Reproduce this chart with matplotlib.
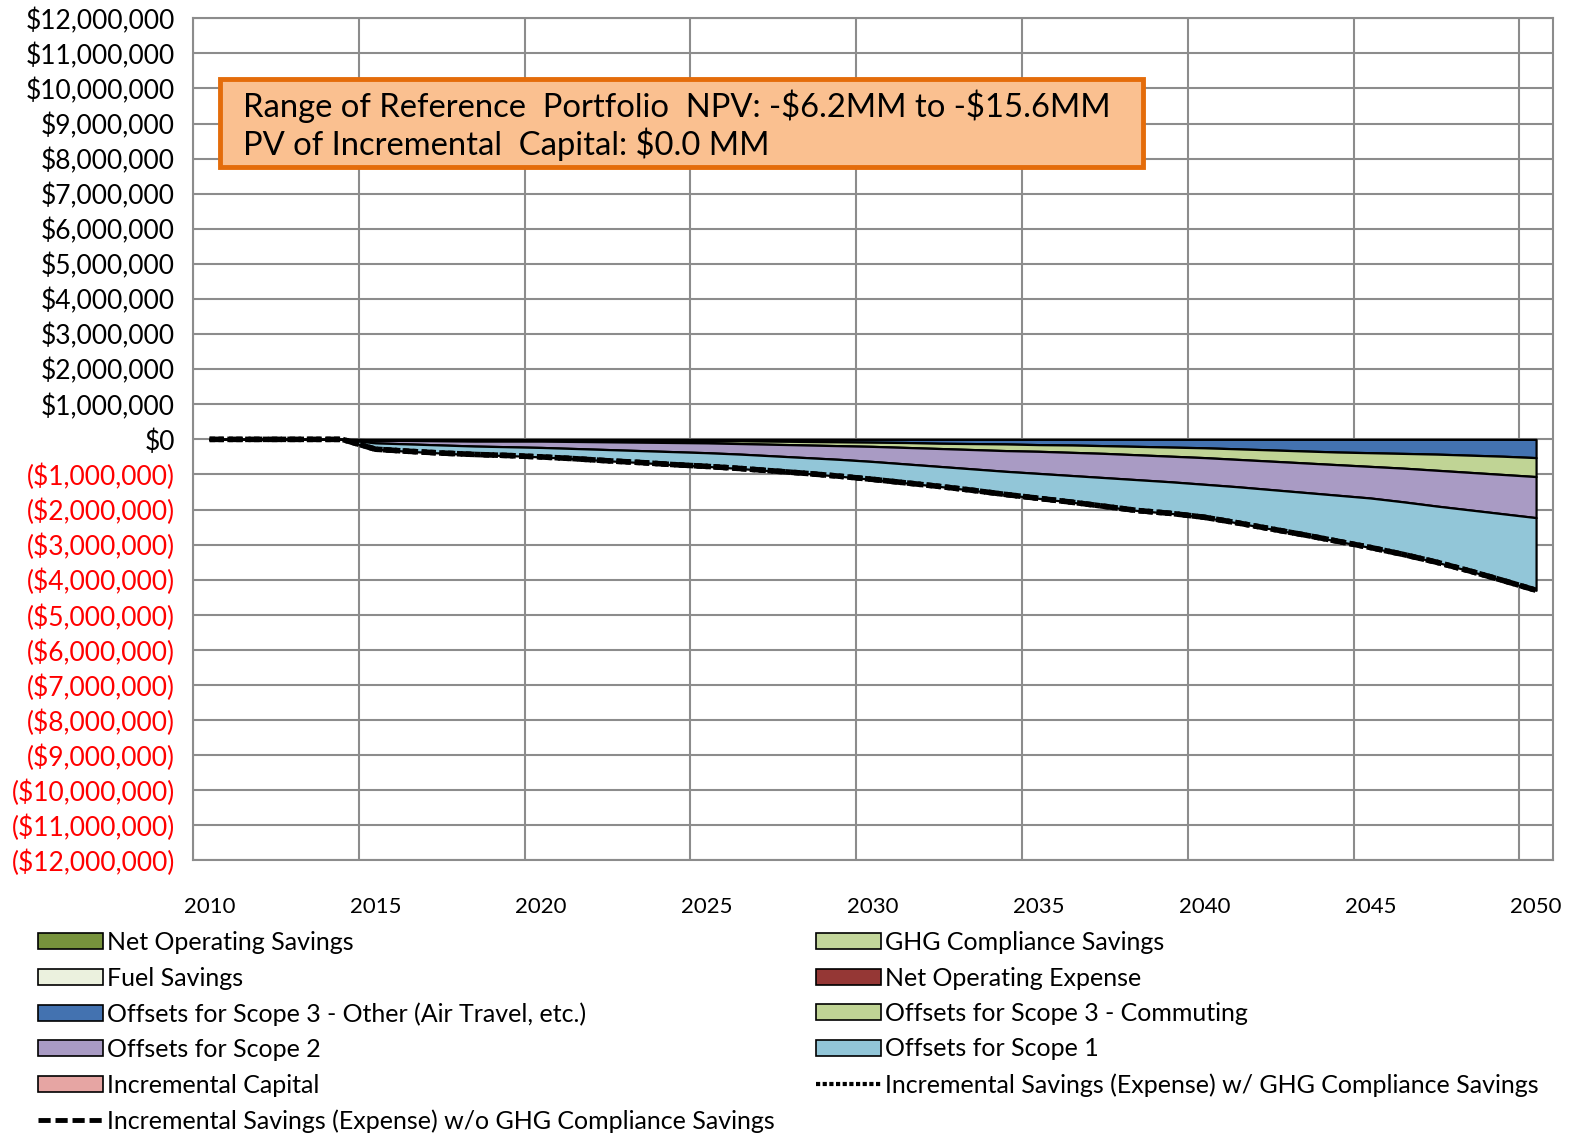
import numpy as np
import matplotlib
matplotlib.use("Agg")
import matplotlib.pyplot as plt
from matplotlib.patches import Patch, Rectangle
from matplotlib.lines import Line2D
from matplotlib.ticker import FuncFormatter, MultipleLocator

plt.rcParams['font.family'] = ['Lato', 'DejaVu Sans']

# years of the category axis
years = list(range(2010, 2051))

# stacked layers, $MM per year (2010-2050), shown as expense (negative)
scope3_other = [0, 0, 0, 0, 0,
                0.01, 0.01, 0.01, 0.02, 0.02, 0.02, 0.02, 0.03, 0.03, 0.03,
                0.04, 0.04, 0.05, 0.06, 0.07, 0.08, 0.09, 0.11, 0.12, 0.13,
                0.15, 0.16, 0.18, 0.20, 0.22, 0.24, 0.27, 0.30, 0.33, 0.36,
                0.38, 0.40, 0.42, 0.45, 0.48, 0.52]
scope3_commuting = [0, 0, 0, 0, 0,
                    0.02, 0.02, 0.03, 0.03, 0.03, 0.03, 0.04, 0.04, 0.05, 0.06,
                    0.06, 0.08, 0.09, 0.10, 0.11, 0.12, 0.14, 0.15, 0.17, 0.19,
                    0.19, 0.21, 0.22, 0.24, 0.26, 0.28, 0.30, 0.32, 0.34, 0.36,
                    0.39, 0.42, 0.46, 0.49, 0.52, 0.54]
scope2 = [0, 0, 0, 0, 0,
          0.07, 0.10, 0.12, 0.14, 0.16, 0.18, 0.20, 0.22, 0.24, 0.26,
          0.28, 0.30, 0.33, 0.36, 0.39, 0.43, 0.47, 0.51, 0.55, 0.59,
          0.63, 0.66, 0.69, 0.71, 0.73, 0.76, 0.78, 0.81, 0.84, 0.87,
          0.90, 0.96, 1.02, 1.07, 1.12, 1.17]
scope1 = [0, 0, 0, 0, 0,
          0.18, 0.21, 0.23, 0.25, 0.25, 0.27, 0.29, 0.32, 0.34, 0.37,
          0.39, 0.41, 0.43, 0.45, 0.48, 0.51, 0.54, 0.57, 0.61, 0.66,
          0.71, 0.76, 0.82, 0.88, 0.90, 0.94, 1.03, 1.12, 1.21, 1.31,
          1.41, 1.50, 1.60, 1.74, 1.90, 2.07]

# incremental savings lines, $MM
savings_wo_ghg = [0, 0, 0, 0, 0,
                  -0.28, -0.34, -0.39, -0.43, -0.46, -0.50, -0.55, -0.61, -0.66, -0.72,
                  -0.77, -0.83, -0.90, -0.97, -1.05, -1.14, -1.24, -1.34, -1.45, -1.57,
                  -1.68, -1.79, -1.91, -2.03, -2.11, -2.22, -2.38, -2.55, -2.72, -2.90,
                  -3.08, -3.28, -3.50, -3.75, -4.02, -4.30]
savings_w_ghg = [0, 0, 0, 0, 0,
                 -0.28, -0.34, -0.39, -0.43, -0.46, -0.50, -0.55, -0.61, -0.66, -0.72,
                 -0.77, -0.83, -0.90, -0.97, -1.05, -1.14, -1.24, -1.34, -1.45, -1.57,
                 -1.68, -1.79, -1.91, -2.03, -2.11, -2.22, -2.38, -2.55, -2.72, -2.90,
                 -3.08, -3.28, -3.50, -3.75, -4.02, -4.30]

box_lines = [r"Range of Reference  Portfolio  NPV: -\$6.2MM to -\$15.6MM",
             r"PV of Incremental  Capital: \$0.0 MM"]

c_nos = '#77933C'
c_ghg = '#C3D69B'
c_fuel = '#EBF1DE'
c_noe = '#953735'
c_s3o = '#4372B0'
c_s3c = '#C0D495'
c_s2 = '#A99BC4'
c_s1 = '#92C6D8'
c_cap = '#E6A5A3'

fig = plt.figure(figsize=(15.91, 11.34), dpi=100)
ax = fig.add_axes([0.1213, 0.2412, 0.8546, 0.7427])

yrs = np.array(years)
mm = 1e6
ax.stackplot(yrs,
             -np.array(scope3_other) * mm,
             -np.array(scope3_commuting) * mm,
             -np.array(scope2) * mm,
             -np.array(scope1) * mm,
             colors=[c_s3o, c_s3c, c_s2, c_s1],
             edgecolor='black', linewidth=1.6, zorder=2)

ax.plot(yrs, np.array(savings_w_ghg) * mm, color='black', lw=4,
        linestyle=(0, (1, 0.6)), zorder=3)
ax.plot(yrs, np.array(savings_wo_ghg) * mm, color='black', lw=4,
        linestyle=(0, (2.5, 1)), zorder=4)

ax.set_xlim(2009.5, 2050.5)
ax.set_ylim(-12e6, 12e6)
ax.set_xticks(range(2010, 2051, 5))
ax.xaxis.set_minor_locator(MultipleLocator(5, offset=4.5))
ax.yaxis.set_major_locator(MultipleLocator(1e6))
ax.grid(True, which='minor', axis='x', color='#8C8C8C', lw=1.5, zorder=0)
ax.grid(True, which='major', axis='y', color='#8C8C8C', lw=1.5, zorder=0)
ax.set_axisbelow(True)
for s in ax.spines.values():
    s.set_color('#8C8C8C')
    s.set_linewidth(1.5)
ax.tick_params(which='both', length=0)
ax.tick_params(axis='x', pad=26, labelsize=16)
ax.tick_params(axis='y', pad=13, labelsize=19)


def money(v, pos):
    if v < 0:
        return '(${:,.0f})'.format(-v)
    return '${:,.0f}'.format(v)


ax.yaxis.set_major_formatter(FuncFormatter(money))
fig.canvas.draw()
for lab in ax.get_yticklabels():
    if lab.get_position()[1] < 0:
        lab.set_color('#FF0000')

# annotation box
W, H = 1591, 1134
fig.patches.append(Rectangle((220 / W, 1 - 167 / H), (1143 - 220) / W, (167 - 79) / H,
                             transform=fig.transFigure, facecolor='#FAC090',
                             edgecolor='#E46C0A', lw=3.5, zorder=5))
fig.text(243 / W, 1 - 106 / H, box_lines[0], fontsize=23.6, va='center', zorder=6)
fig.text(243 / W, 1 - 144 / H, box_lines[1], fontsize=23.6, va='center', zorder=6)

h_nos = Patch(facecolor=c_nos, edgecolor='black', lw=1.2)
h_ghg = Patch(facecolor=c_ghg, edgecolor='black', lw=1.2)
h_fuel = Patch(facecolor=c_fuel, edgecolor='black', lw=1.2)
h_noe = Patch(facecolor=c_noe, edgecolor='black', lw=1.2)
h_s3o = Patch(facecolor=c_s3o, edgecolor='black', lw=1.2)
h_s3c = Patch(facecolor=c_s3c, edgecolor='black', lw=1.2)
h_s2 = Patch(facecolor=c_s2, edgecolor='black', lw=1.2)
h_s1 = Patch(facecolor=c_s1, edgecolor='black', lw=1.2)
h_cap = Patch(facecolor=c_cap, edgecolor='black', lw=1.2)
h_w = Line2D([], [], color='black', lw=3, linestyle=(0, (1, 0.6)))
h_wo = Line2D([], [], color='black', lw=3.5, linestyle=(0, (2.5, 1)))

left_h = [h_nos, h_fuel, h_s3o, h_s2, h_cap, h_wo]
left_l = ['Net Operating Savings', 'Fuel Savings',
          'Offsets for Scope 3 - Other (Air Travel, etc.)', 'Offsets for Scope 2',
          'Incremental Capital', 'Incremental Savings (Expense) w/o GHG Compliance Savings']
right_h = [h_ghg, h_noe, h_s3c, h_s1, h_w]
right_l = ['GHG Compliance Savings', 'Net Operating Expense',
           'Offsets for Scope 3 - Commuting', 'Offsets for Scope 1',
           'Incremental Savings (Expense) w/ GHG Compliance Savings']

leg_kw = dict(frameon=False, fontsize=18, handlelength=2.6, handleheight=0.6,
              handletextpad=0.15, labelspacing=0.5, borderpad=0, borderaxespad=0,
              loc='upper left')
leg1 = fig.legend(left_h, left_l, bbox_to_anchor=(38 / W, 1 - 931 / H), **leg_kw)
leg2 = fig.legend(right_h, right_l, bbox_to_anchor=(816 / W, 1 - 931 / H), **leg_kw)

fig.savefig('out.png', dpi=100, facecolor='white')
